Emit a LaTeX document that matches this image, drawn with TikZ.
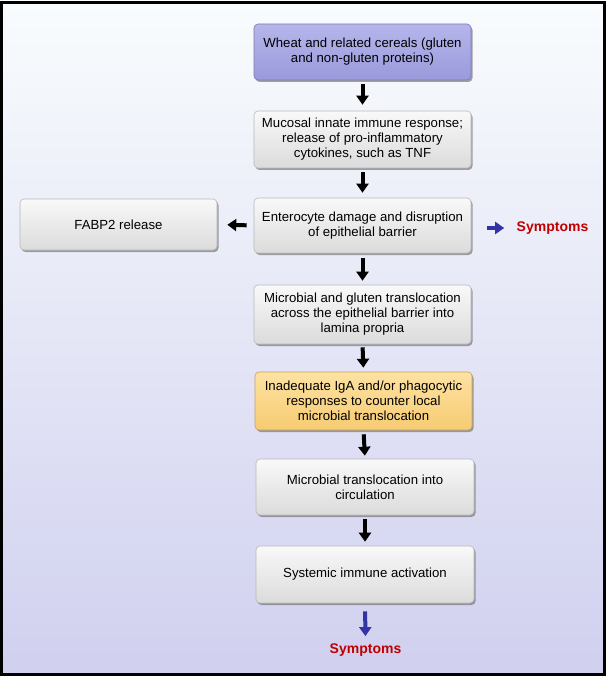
\documentclass[tikz,border=0pt]{standalone}
\usepackage{fontspec}
\setmainfont{Liberation Sans}
\usetikzlibrary{arrows.meta,shadows}
\definecolor{lav}{HTML}{A9A9E9}
\definecolor{lavd}{HTML}{9A9ADC}
\definecolor{orl}{HTML}{FDE2A2}
\definecolor{ord}{HTML}{F7CB72}
\definecolor{symred}{HTML}{C00000}
\definecolor{symblue}{HTML}{3333A6}
\definecolor{bgtop}{HTML}{F9FCFD}
\definecolor{bgbot}{HTML}{D0D0EF}
\tikzset{
  box/.style={rectangle, rounded corners=4pt, draw=gray!55, line width=0.6pt,
    top color=gray!5, bottom color=gray!28, align=center,
    font=\fontsize{13.2}{15}\selectfont,
    drop shadow={shadow xshift=1.5pt, shadow yshift=-2pt, fill=black!60, opacity=0.6}},
  arr/.style={line width=4pt, -{Triangle[width=12pt,length=9pt]}},
  barr/.style={arr, draw=symblue, color=symblue},
  symp/.style={font=\fontsize{14}{16}\selectfont\bfseries, text=symred}
}
\begin{document}
\begin{tikzpicture}[x=1pt,y=-1pt]
\useasboundingbox (0,0) rectangle (607,676);
\draw[line width=3pt, top color=bgtop, bottom color=bgbot] (1.5,3) rectangle (604.5,674.5);
\node[box, minimum width=217pt, minimum height=56pt, top color=lav!85, bottom color=lavd, draw=lavd!80!black] (b1) at (362.5,52) {Wheat and related cereals (gluten\\and non-gluten proteins)};
\node[box, minimum width=217pt, minimum height=57pt] (b2) at (362.5,139.5) {Mucosal innate immune response;\\release of pro-inflammatory\\cytokines, such as TNF};
\node[box, minimum width=217pt, minimum height=55pt] (b3) at (362.5,225.5) {Enterocyte damage and disruption\\of epithelial barrier};
\node[box, minimum width=197pt, minimum height=51pt] (f) at (118.5,224.5) {FABP2 release};
\node[box, minimum width=217pt, minimum height=59pt] (b4) at (362.5,314.5) {Microbial and gluten translocation\\across the epithelial barrier into\\lamina propria};
\node[box, minimum width=217pt, minimum height=58pt, top color=orl, bottom color=ord, draw=ord!80!black] (b5) at (363.5,401) {Inadequate IgA and/or phagocytic\\responses to counter local\\microbial translocation};
\node[box, minimum width=218pt, minimum height=56pt] (b6) at (365,487) {Microbial translocation into\\circulation};
\node[box, minimum width=218pt, minimum height=57pt] (b7) at (365,574.5) {Systemic immune activation};
\node[symp] (s1) at (552.5,228) {Symptoms};
\node[symp] (s2) at (365.5,650) {Symptoms};
\draw[arr, shorten <=4pt, shorten >=6pt] (b1.south) -- (b2.north);
\draw[arr, shorten <=4pt, shorten >=5pt] (b2.south) -- (b3.north);
\draw[arr, shorten <=5pt, shorten >=4pt] (b3.south) -- (b4.north);
\draw[arr, shorten <=3pt, shorten >=4pt] (b4.south) -- (b5.north);
\draw[arr, shorten <=4pt, shorten >=3pt] (b5.south) -- (b6.north);
\draw[arr, shorten <=4pt, shorten >=4pt] (b6.south) -- (b7.north);
\draw[arr, shorten <=7pt, shorten >=10pt] (b3.west) -- (f.east);
\draw[barr, shorten <=16pt, shorten >=9pt] (b3.east |- s1.west) -- (s1.west);
\draw[barr, shorten <=8pt, shorten >=4pt] (b7.south) -- (s2.north);
\end{tikzpicture}
\end{document}
